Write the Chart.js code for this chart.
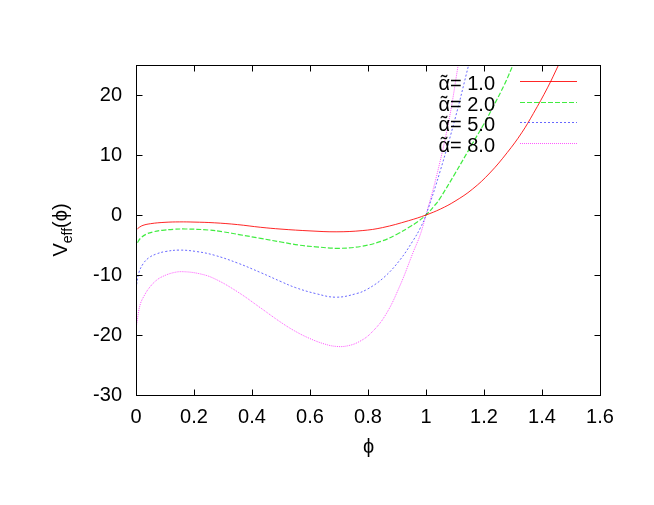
<!DOCTYPE html>
<html>
<head>
<meta charset="utf-8">
<script src="https://cdn.jsdelivr.net/npm/chart.js@4.4.0/dist/chart.umd.min.js"></script>
<style>
  html, body { margin: 0; padding: 0; background: #fff; }
</style>
</head>
<body>
<canvas id="veffChart" width="654" height="505"></canvas>
<script>
// values
const phiA1 = [0.005, 0.02, 0.05, 0.1, 0.15, 0.2, 0.27, 0.35, 0.43, 0.5, 0.6, 0.69, 0.78, 0.85, 0.94, 1.0, 1.05, 1.1, 1.16, 1.22, 1.28, 1.33, 1.37, 1.42, 1.457];
const vA1   = [-2.3, -1.8, -1.45, -1.22, -1.15, -1.18, -1.3, -1.6, -2.05, -2.35, -2.65, -2.8, -2.6, -2.1, -0.95, 0, 1.0, 2.3, 4.3, 7.0, 10.4, 13.7, 16.9, 21.3, 25];

const phiA2 = [0.005, 0.015, 0.035, 0.06, 0.09, 0.13, 0.17, 0.25, 0.3, 0.36, 0.43, 0.5, 0.56, 0.62, 0.7, 0.78, 0.85, 0.9, 0.94, 0.97, 1.0, 1.03, 1.046, 1.1, 1.16, 1.2, 1.23, 1.27, 1.30];
const vA2   = [-4.6, -3.9, -3.2, -2.8, -2.55, -2.38, -2.33, -2.5, -2.8, -3.3, -3.9, -4.5, -5.0, -5.3, -5.55, -5.2, -4.3, -3.2, -2.1, -1.15, 0, 1.6, 2.6, 6.9, 11.9, 15.2, 17.9, 21.7, 25];

const phiA5 = [0.002, 0.01, 0.025, 0.045, 0.07, 0.1, 0.15, 0.21, 0.27, 0.35, 0.43, 0.5, 0.55, 0.62, 0.69, 0.76, 0.8, 0.855, 0.91, 0.955, 0.98, 1.0, 1.05, 1.1, 1.147];
const vA5   = [-11.6, -9.6, -8.1, -7.1, -6.5, -6.1, -5.85, -6.1, -6.7, -8.0, -9.6, -11.1, -12.1, -13.1, -13.7, -13.1, -12.3, -10.4, -7.5, -4.3, -2.2, 0, 7.5, 16, 25];

const phiA8 = [0.002, 0.014, 0.03, 0.048, 0.07, 0.094, 0.13, 0.163, 0.22, 0.27, 0.35, 0.43, 0.5, 0.55, 0.6, 0.65, 0.69, 0.73, 0.77, 0.81, 0.86, 0.91, 0.955, 0.98, 1.0, 1.04, 1.08, 1.111];
const vA8   = [-18.3, -15, -13.3, -12, -10.9, -10.2, -9.6, -9.45, -9.8, -10.6, -12.8, -15.5, -17.9, -19.4, -20.6, -21.5, -21.9, -21.8, -21.1, -19.7, -16.7, -11.8, -6.3, -3.3, 0, 7.2, 16, 25];

const alphaLabels = ['1.0', '2.0', '5.0', '8.0'];

const xTickValues = [0, 0.2, 0.4, 0.6, 0.8, 1, 1.2, 1.4, 1.6];
const xTickLabels = ['0', '0.2', '0.4', '0.6', '0.8', '1', '1.2', '1.4', '1.6'];
const yTickValues = [-30, -20, -10, 0, 10, 20];
const yTickLabels = ['-30', '-20', '-10', '0', '10', '20'];

const FONT = "'Liberation Sans', Arial, Helvetica, sans-serif";
const PHI = '\u03d5';

function toPoints(xs, ys) {
  return xs.map((x, i) => ({ x: x, y: ys[i] }));
}

function curve(label, xs, ys, color, width, dash) {
  return {
    label: label,
    data: toPoints(xs, ys),
    borderColor: color,
    borderWidth: width,
    borderDash: dash,
    pointRadius: 0,
    showLine: true,
    fill: false,
    tension: 0.4
  };
}

// frame with inward ticks, axis titles and a gnuplot style key
const gnuplotLook = {
  id: 'gnuplotLook',
  afterDatasetsDraw(chart) {
    const ctx = chart.ctx;
    const a = chart.chartArea;
    const xs = chart.scales.x;
    const ys = chart.scales.y;
    const L = Math.round(a.left) + 0.5, R = Math.round(a.right) + 0.5;
    const T = Math.round(a.top) + 0.5, B = Math.round(a.bottom) + 0.5;

    ctx.save();
    ctx.strokeStyle = '#000';
    ctx.lineWidth = 1;
    ctx.setLineDash([]);
    ctx.strokeRect(L, T, R - L, B - T);
    ctx.beginPath();
    xTickValues.forEach(v => {
      const px = Math.round(xs.getPixelForValue(v)) + 0.5;
      ctx.moveTo(px, B); ctx.lineTo(px, B - 6);
      ctx.moveTo(px, T); ctx.lineTo(px, T + 6);
    });
    yTickValues.forEach(v => {
      const py = Math.round(ys.getPixelForValue(v)) + 0.5;
      ctx.moveTo(L, py); ctx.lineTo(L + 6, py);
      ctx.moveTo(R, py); ctx.lineTo(R - 6, py);
    });
    ctx.stroke();

    // key: text on the left, line sample on the right
    ctx.font = '20px ' + FONT;
    ctx.fillStyle = '#000';
    ctx.textBaseline = 'alphabetic';
    chart.data.datasets.forEach((ds, i) => {
      const rowY = a.top + 16 + i * 20.5;
      const base = rowY + 9;
      const right = a.right - 105;
      ctx.textAlign = 'right';
      const rest = '= ' + ds.label;
      ctx.fillText(rest, right, base);
      const wRest = ctx.measureText(rest).width;
      const wA = ctx.measureText('\u03b1').width;
      const ax = right - wRest - wA;
      ctx.textAlign = 'left';
      ctx.fillText('\u03b1', ax, base);
      ctx.textAlign = 'center';
      ctx.fillText('\u02dc', ax + wA / 2, base - 1);

      ctx.beginPath();
      ctx.strokeStyle = ds.borderColor;
      ctx.lineWidth = ds.borderWidth;
      ctx.setLineDash(ds.borderDash || []);
      ctx.moveTo(a.right - 80, Math.round(rowY) + 0.5);
      ctx.lineTo(a.right - 23, Math.round(rowY) + 0.5);
      ctx.stroke();
    });
    ctx.setLineDash([]);
    ctx.lineWidth = 1;

    // x title
    ctx.textAlign = 'center';
    ctx.fillText(PHI, (a.left + a.right) / 2 + 0.5, 453);

    // y title V_eff(phi)
    ctx.translate(67, (a.top + a.bottom) / 2);
    ctx.rotate(-Math.PI / 2);
    ctx.textAlign = 'left';
    const wV = ctx.measureText('V').width;
    ctx.font = '14px ' + FONT;
    const wSub = ctx.measureText('eff').width;
    ctx.font = '20px ' + FONT;
    const wPar = ctx.measureText('(' + PHI + ')').width;
    const total = wV + wSub + wPar;
    let x0 = -total / 2;
    ctx.fillText('V', x0, 0);
    ctx.font = '14px ' + FONT;
    ctx.fillText('eff', x0 + wV, 5);
    ctx.font = '20px ' + FONT;
    ctx.fillText('(' + PHI + ')', x0 + wV + wSub, 0);
    ctx.restore();
  }
};

const ctx1 = document.getElementById('veffChart');

veffChart = new Chart(ctx1, {
  type: 'scatter',
  data: {
    datasets: [
      curve(alphaLabels[0], phiA1, vA1, 'rgba(255,0,0,0.85)', 1, []),
      curve(alphaLabels[1], phiA2, vA2, 'rgba(0,230,0,0.75)', 1.2, [5, 2]),
      curve(alphaLabels[2], phiA5, vA5, 'rgba(40,40,255,0.7)', 1, [2, 2]),
      curve(alphaLabels[3], phiA8, vA8, 'rgba(255,0,255,0.65)', 1, [1, 1])
    ]
  },
  options: {
    responsive: false,
    animation: false,
    devicePixelRatio: 1,
    layout: { padding: { top: 65, right: 54, left: 0, bottom: 0 } },
    plugins: {
      legend: { display: false },
      tooltip: { enabled: false }
    },
    scales: {
      x: {
        type: 'linear',
        min: 0,
        max: 1.6,
        afterBuildTicks: s => { s.ticks = xTickValues.map(v => ({ value: v })); },
        afterFit: s => { s.height = 110; },
        grid: { display: false, drawTicks: false },
        border: { display: false },
        ticks: {
          padding: 10,
          color: '#000',
          font: { family: FONT, size: 20 },
          maxRotation: 0,
          autoSkip: false,
          callback: v => xTickLabels[xTickValues.indexOf(v)]
        }
      },
      y: {
        type: 'linear',
        min: -30,
        max: 25,
        afterBuildTicks: s => { s.ticks = yTickValues.map(v => ({ value: v })); },
        afterFit: s => { s.width = 136; },
        grid: { display: false, drawTicks: false },
        border: { display: false },
        ticks: {
          padding: 14,
          color: '#000',
          font: { family: FONT, size: 20 },
          autoSkip: false,
          callback: v => yTickLabels[yTickValues.indexOf(v)]
        }
      }
    }
  },
  plugins: [gnuplotLook]
});
</script>
</body>
</html>
